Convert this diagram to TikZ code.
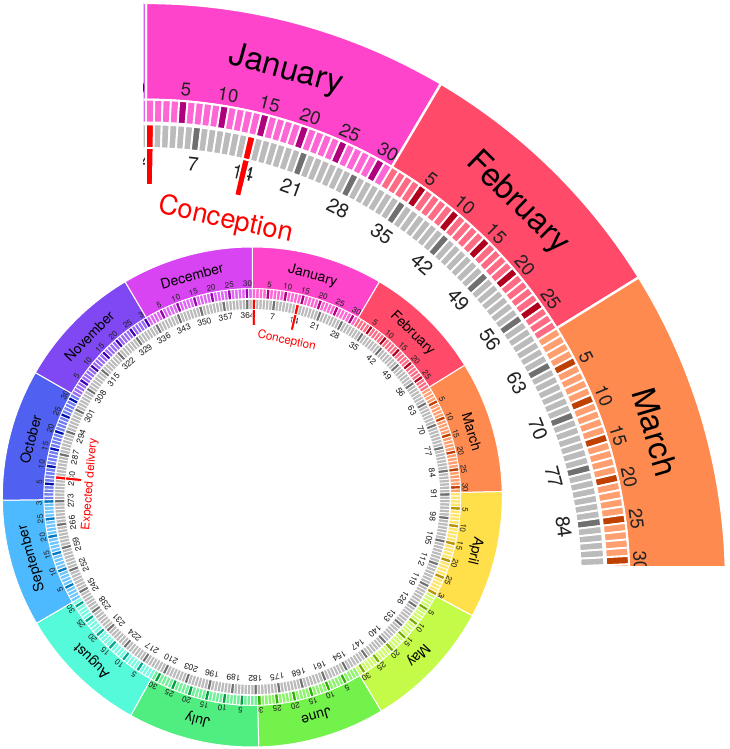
\documentclass[tikz,border=0pt]{standalone}
\usepackage{fontspec}
\setmainfont{TeX Gyre Heros}
\definecolor{cJan}{HTML}{FF44CC}\definecolor{kJan}{HTML}{B0007E}
\definecolor{cFeb}{HTML}{FF4A6A}\definecolor{kFeb}{HTML}{B0001E}
\definecolor{cMar}{HTML}{FF8A50}\definecolor{kMar}{HTML}{C04000}
\definecolor{cApr}{HTML}{FFE04A}\definecolor{kApr}{HTML}{B89400}
\definecolor{cMay}{HTML}{C4FA48}\definecolor{kMay}{HTML}{78B000}
\definecolor{cJun}{HTML}{72F24A}\definecolor{kJun}{HTML}{30B000}
\definecolor{cJul}{HTML}{50EE80}\definecolor{kJul}{HTML}{00A040}
\definecolor{cAug}{HTML}{55FADB}\definecolor{kAug}{HTML}{00A890}
\definecolor{cSep}{HTML}{4DB9FF}\definecolor{kSep}{HTML}{0078C0}
\definecolor{cOct}{HTML}{5060F0}\definecolor{kOct}{HTML}{0010B0}
\definecolor{cNov}{HTML}{8048F2}\definecolor{kNov}{HTML}{4000B8}
\definecolor{cDec}{HTML}{D844F2}\definecolor{kDec}{HTML}{9800B0}
\definecolor{gLight}{HTML}{BBBBBB}
\definecolor{gDark}{HTML}{707070}
\definecolor{txtc}{HTML}{222222}
\definecolor{markred}{HTML}{FF0000}
\newcommand\wS{0.98630137}
% ring cell: #1 style, #2 start index, #3 end index, #4 inner r, #5 outer r
\newcommand\ringcell[5]{%
  \pgfmathsetmacro\cellA{90-(#2)*\wS}%
  \pgfmathsetmacro\cellB{90-(#3)*\wS}%
  \path[#1] (\cellA:#5) arc[start angle=\cellA, end angle=\cellB, radius=#5]
    -- (\cellB:#4) arc[start angle=\cellB, end angle=\cellA, radius=#4] -- cycle;}
\tikzset{
  monthlab/.style={font=\fontsize{14}{14}\selectfont, inner sep=0pt, text=black},
  daylab/.style={font=\fontsize{8}{8}\selectfont, inner sep=0pt, text=txtc},
  weeklab/.style={font=\fontsize{8.5}{8.5}\selectfont, inner sep=0pt, text=txtc},
  marklab/.style={font=\fontsize{11.7}{11.7}\selectfont, inner sep=0pt, text=markred},
}
% visible day-index range: index <= \wHi or index >= \wLo
\newcommand\wHi{400}
\newcommand\wLo{-1}
\newcommand\ifvis[2]{% #1 index, #2 code
  \pgfmathtruncatemacro\visok{((#1)<=\wHi)||((#1)>=\wLo)}%
  \ifnum\visok=1 #2\fi}
% #1 = line width scale, #2 = name prefix
\newcommand\wheel[2]{%
  \foreach \st/\len/\nm/\col/\dk in {0/31/January/cJan/kJan,31/28/February/cFeb/kFeb,59/31/March/cMar/kMar,90/30/April/cApr/kApr,120/31/May/cMay/kMay,151/30/June/cJun/kJun,181/31/July/cJul/kJul,212/31/August/cAug/kAug,243/30/September/cSep/kSep,273/31/October/cOct/kOct,304/30/November/cNov/kNov,334/31/December/cDec/kDec}{%
    \pgfmathsetmacro\cellEnd{\st+\len}%
    \ringcell{fill=\col,draw=white,line width=#1*1pt}{\st}{\cellEnd}{208.3}{250}%
    \pgfmathsetmacro\wMid{\st+\len/2}%
    \ifvis{\wMid}{\node[monthlab, rotate={-\wMid*\wS}] (#2-m\st) at ({90-\wMid*\wS}:229) {\nm};}%
    \foreach \d in {1,...,\len}{%
      \pgfmathtruncatemacro\dd{\st+\d}%
      \pgfmathtruncatemacro\isfive{mod(\d,5)==0}%
      \ifvis{\dd-1}{%
      \ifnum\isfive=1
        \ringcell{fill=\dk,draw=white,line width=#1*0.8pt}{\dd-1}{\dd}{198.5}{208.3}%
        \node[daylab, rotate={-(\dd-0.3)*\wS}] (#2-d\dd) at ({90-(\dd-0.3)*\wS}:213.2) {\d};
      \else
        \ringcell{fill=\col!82!white,draw=white,line width=#1*0.8pt}{\dd-1}{\dd}{198.5}{208.3}%
      \fi}%
    }
  }
  \foreach \i in {0,...,364}{%
    \pgfmathtruncatemacro\isw{mod(\i+1,7)==0}%
    \ifvis{\i}{%
    \ifnum\isw=1
      \ringcell{fill=gDark,draw=white,line width=#1*0.8pt}{\i}{\i+1}{187.5}{197.7}%
    \else
      \ringcell{fill=gLight,draw=white,line width=#1*0.8pt}{\i}{\i+1}{187.5}{197.7}%
    \fi}%
  }
  \foreach \n in {7,14,...,364}{%
    \ifvis{\n-1}{\node[weeklab, rotate={-(\n-0.5)*\wS}] (#2-w\n) at ({90-(\n-0.5)*\wS}:181.6) {\n};}%
  }
  \foreach \i in {0,13,279}{%
    \ifvis{\i}{%
    \ringcell{fill=markred,draw=white,line width=#1*0.8pt}{\i}{\i+1}{187.5}{197.7}%
    \ringcell{fill=markred,draw=white,line width=#1*0.8pt}{\i}{\i+1}{171.5}{187.5}}%
  }
  \ifvis{13}{\node[marklab, rotate={-12.4}] (#2-conc) at ({90-12.4}:160) {Conception};}%
  \ifvis{279}{\node[marklab, rotate={-274.6}] (#2-deliv) at ({90-274.6}:163) {Expected delivery};}%
}
\begin{document}
\begin{tikzpicture}[x=1pt,y=1pt]
\useasboundingbox[fill=white] (0,0) rectangle (730,749);
% zoomed wheel
\begin{scope}
  \clip (143.5,183) rectangle (730,749);
  \begin{scope}[shift={(146,166)}, scale=2.32, every node/.append style={transform shape}]
    \renewcommand\wHi{91}\renewcommand\wLo{361}
    \wheel{2.32}{big}
  \end{scope}
\end{scope}
% full wheel
\begin{scope}[shift={(252.3,252)}]
  \renewcommand\wHi{400}\renewcommand\wLo{-1}
  \wheel{1}{small}
\end{scope}
\end{tikzpicture}
\end{document}
